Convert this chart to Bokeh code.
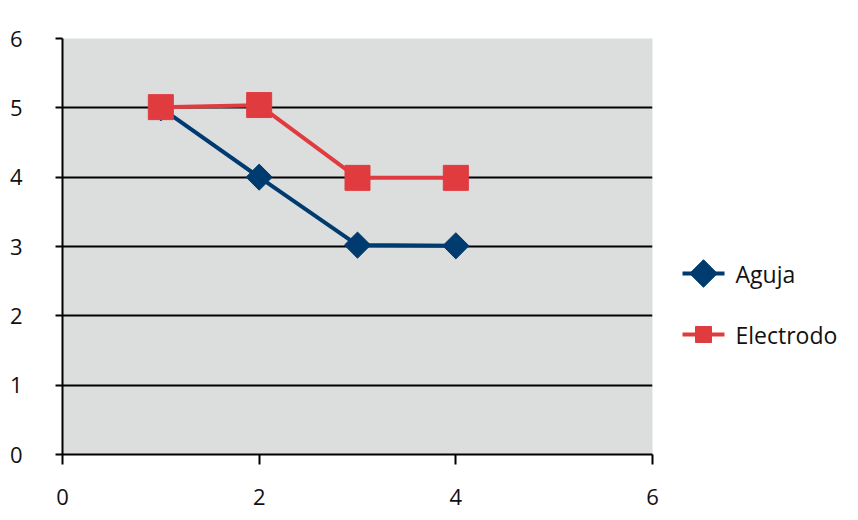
import numpy as np
from bokeh.plotting import figure
from bokeh.layouts import row
from bokeh.models import Range1d, FixedTicker
from bokeh.core.properties import value
from bokeh.embed import file_html
from bokeh.resources import INLINE

# ---- data ----
x_vals = [1, 2, 3, 4]
aguja = [5.0, 4.0, 3.02, 3.01]
electrodo = [5.01, 5.04, 3.99, 3.99]
series_names = ["Aguja", "Electrodo"]
x_ticks = [0, 2, 4, 6]
y_ticks = [0, 1, 2, 3, 4, 5, 6]

NAVY = "#003b6f"
RED = "#e03c40"
BG = "#dcdddd"
FONT = "Open Sans"
TXT = "#111111"

FRAME_H = 416

p = figure(width=668, height=512, output_backend="svg", toolbar_location=None,
           x_range=Range1d(0, 6), y_range=Range1d(0, 6),
           min_border_left=62, min_border_right=16, min_border_top=38, min_border_bottom=58)
p.background_fill_color = BG
p.border_fill_color = "white"
p.outline_line_color = None

p.xgrid.grid_line_color = None
p.ygrid.grid_line_color = "black"
p.ygrid.grid_line_width = 2
p.ygrid.ticker = FixedTicker(ticks=y_ticks)

p.xaxis.ticker = FixedTicker(ticks=x_ticks)
p.yaxis.ticker = FixedTicker(ticks=y_ticks)
for ax in (p.xaxis, p.yaxis):
    ax.axis_line_color = "black"
    ax.axis_line_width = 2
    ax.major_tick_line_color = "black"
    ax.major_tick_line_width = 2
    ax.major_tick_in = 0
    ax.minor_tick_line_color = None
    ax.major_label_text_font = FONT
    ax.major_label_text_font_size = "22px"
    ax.major_label_text_color = TXT
p.xaxis.major_tick_out = 10
p.yaxis.major_tick_out = 7
p.xaxis.major_label_standoff = 24
p.yaxis.major_label_standoff = 33

# Aguja (navy diamonds)
p.line(x_vals, aguja, line_color=NAVY, line_width=4)
p.scatter(x_vals, aguja, marker="square", angle=np.pi / 4, size=18.5,
          fill_color=NAVY, line_color=NAVY)
# Electrodo (red squares)
p.line(x_vals, electrodo, line_color=RED, line_width=4)
p.scatter(x_vals, electrodo, marker="square", size=25, fill_color=RED, line_color=RED)

# ---- legend panel (its frame is aligned with the main frame by the row layout) ----
lg = figure(width=182, height=512, output_backend="svg", toolbar_location=None,
            x_range=Range1d(0, 182), y_range=Range1d(0, FRAME_H),
            min_border=0, min_border_left=0, min_border_right=0,
            min_border_top=0, min_border_bottom=0)
lg.axis.visible = False
lg.grid.visible = False
lg.outline_line_color = None
lg.background_fill_color = "white"
lg.border_fill_color = "white"

colors = [NAVY, RED]
markers = ["diamond_sq", "square"]
row_y = [181 - i * 61 for i in range(len(series_names))]
for name, c, yy, mk in zip(series_names, colors, row_y, markers):
    lg.segment(x0=[14], y0=[yy], x1=[56], y1=[yy], line_color=c, line_width=4)
    if mk == "diamond_sq":
        lg.scatter([35], [yy], marker="square", angle=np.pi / 4, size=19.5,
                   fill_color=c, line_color=c)
    else:
        lg.scatter([35], [yy], marker="square", size=16, fill_color=c, line_color=c)
    lg.text([67], [yy], text=[name], text_font=value(FONT), text_font_size="23px",
            text_baseline="middle", text_align="left", text_color=TXT)

layout = row(p, lg)
open("out.html", "w").write(file_html(layout, INLINE))
